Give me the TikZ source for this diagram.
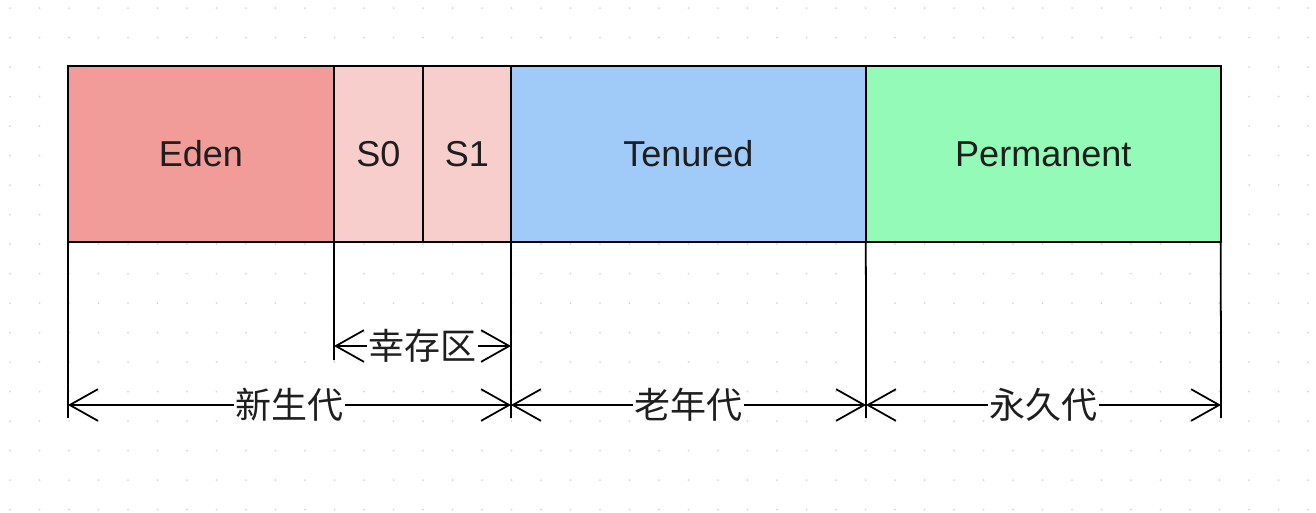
\documentclass[tikz,border=0pt]{standalone}
\usepackage{fontspec}
\setsansfont{Liberation Sans}
\newfontfamily\cjk{Noto Sans CJK SC}
\usetikzlibrary{arrows.meta,positioning}

\definecolor{edenred}{RGB}{241,156,153}
\definecolor{survpink}{RGB}{248,206,204}
\definecolor{tenblue}{RGB}{160,202,248}
\definecolor{permgreen}{RGB}{148,250,184}
\definecolor{griddot}{RGB}{215,215,215}
\definecolor{txtgray}{RGB}{30,30,30}

\begin{document}
\begin{tikzpicture}[
  x=0.02cm, y=-0.02cm,
  blk/.style={draw, line width=1pt, outer sep=0pt, inner sep=0pt, text=txtgray,
              minimum height=3.52cm, font=\sffamily\fontsize{20.5}{20.5}\selectfont},
  dim/.style={line width=1pt,
              {Straight Barb[length=16pt,width=18pt,line width=1pt]}-{Straight Barb[length=16pt,width=18pt,line width=1pt]}},
  dimlbl/.style={fill=white, inner sep=1pt, text=txtgray, font=\cjk\fontsize{20.5}{20.5}\selectfont}
]
  % background and dotted grid
  \fill[white] (0,0) rectangle (1316,512);
  \foreach \i in {0,...,44}
    \foreach \j in {0,...,17}
      \fill[griddot] (10+29.5*\i, 8+29.5*\j) circle (1);

  % heap blocks
  \node[blk, fill=edenred, minimum width=5.32cm, anchor=north west] (eden) at (68,66) {Eden};
  \node[blk, fill=survpink, minimum width=1.78cm, right=0pt of eden] (s0) {S0};
  \node[blk, fill=survpink, minimum width=1.76cm, right=0pt of s0] (s1) {S1};
  \node[blk, fill=tenblue, minimum width=7.1cm, right=0pt of s1] (ten) {Tenured};
  \node[blk, fill=permgreen, minimum width=7.1cm, right=0pt of ten] (perm) {Permanent};

  % guide lines
  \coordinate (g0) at (68,418);
  \coordinate (g1) at (334,360);
  \coordinate (g2) at (511,418);
  \coordinate (g3) at (866,418);
  \coordinate (g4) at (1221,418);
  \draw[line width=1pt] (eden.south west) -- (g0);
  \draw[line width=1pt] (s0.south west) -- (g1);
  \draw[line width=1pt] (s1.south east) -- (g2);
  \draw[line width=1pt] (ten.south east) -- (g3);
  \draw[line width=1pt] (perm.south east) -- (g4);

  % dimension arrows
  \coordinate (a0) at (334,346);
  \coordinate (a1) at (511,346);
  \coordinate (b0) at (68,405);
  \coordinate (b1) at (511,405);
  \coordinate (b2) at (866,405);
  \coordinate (b3) at (1221,405);
  \draw[dim] (a0) -- (a1) node[midway, dimlbl] (surv) {幸存区};
  \draw[dim] (b0) -- (b1) node[midway, dimlbl] (young) {新生代};
  \draw[dim] (b1) -- (b2) node[midway, dimlbl] (old) {老年代};
  \draw[dim] (b2) -- (b3) node[midway, dimlbl] (permlbl) {永久代};
\end{tikzpicture}
\end{document}
